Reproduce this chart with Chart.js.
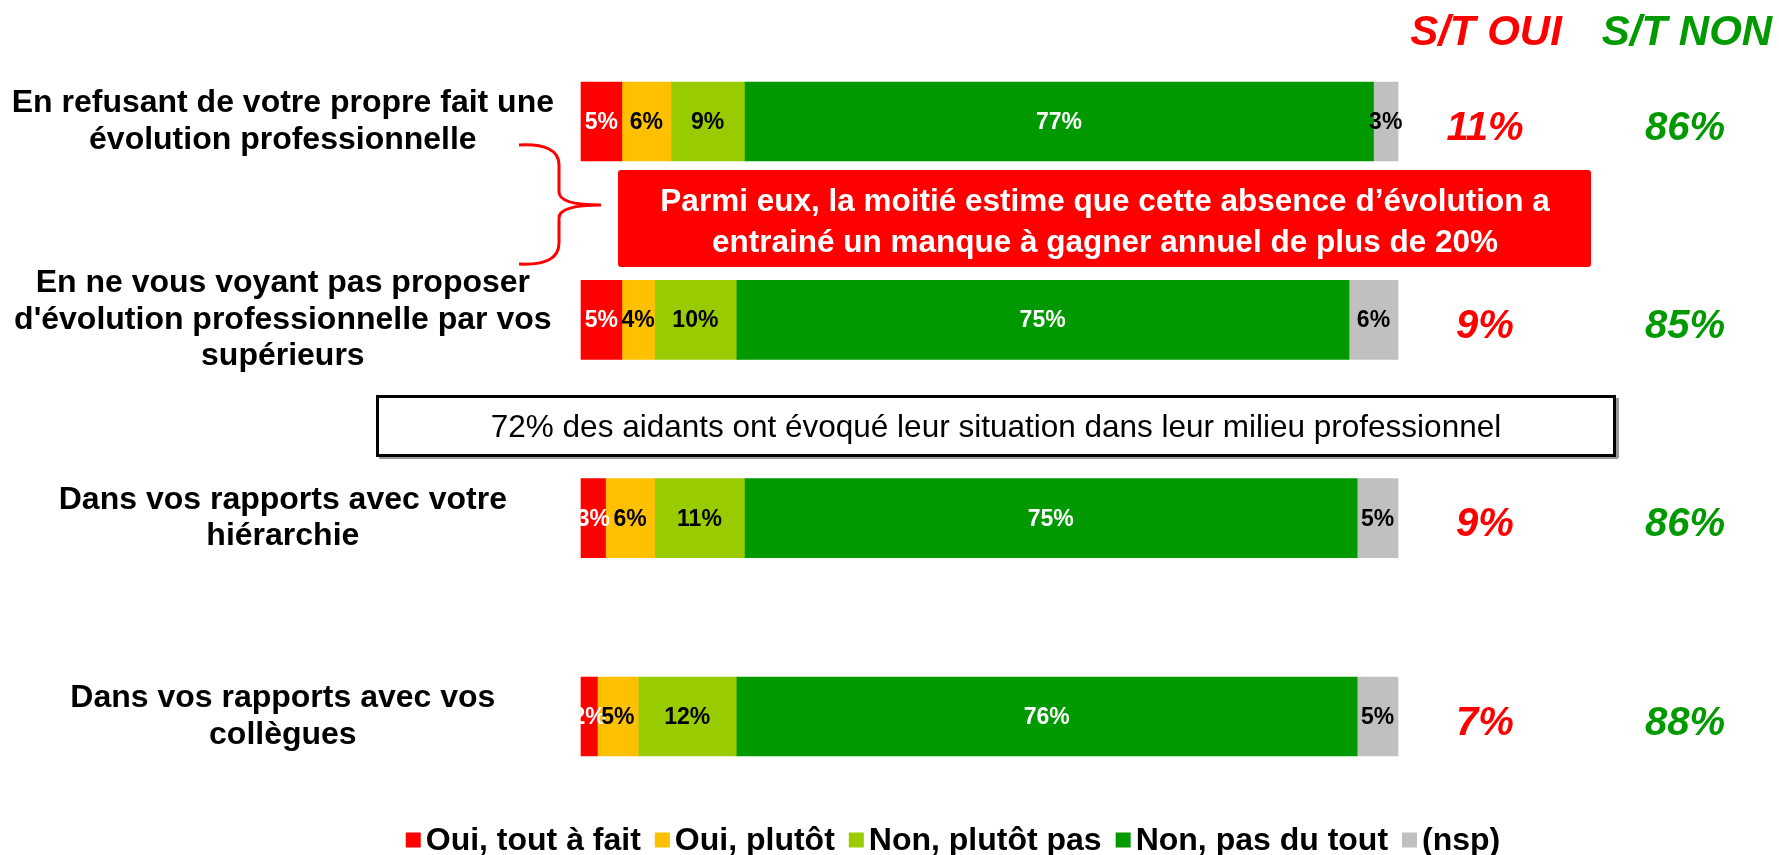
<!DOCTYPE html>
<html lang="fr">
<head>
<meta charset="utf-8">
<script src="https://cdn.jsdelivr.net/npm/chart.js@4.4.1/dist/chart.umd.min.js"></script>
<style>
  html, body { margin: 0; padding: 0; background: #fff; }
  #wrap { width: 1779px; height: 855px; position: relative; }
</style>
</head>
<body>
<div id="wrap"><canvas id="aidantsChart"></canvas></div>
<script>
// libellés des questions (une ligne par élément)
const categories = [
  ['En refusant de votre propre fait une', 'évolution professionnelle'],
  ['En ne vous voyant pas proposer', "d'évolution professionnelle par vos", 'supérieurs'],
  ['Dans vos rapports avec votre', 'hiérarchie'],
  ['Dans vos rapports avec vos', 'collègues']
];

const seriesLabels = ['Oui, tout à fait', 'Oui, plutôt', 'Non, plutôt pas', 'Non, pas du tout', '(nsp)'];
const seriesColors = ['#FF0000', '#FFC000', '#99CC00', '#009900', '#C0C0C0'];
const labelColors = ['#FFFFFF', '#000000', '#000000', '#FFFFFF', '#000000'];

const ouiToutAFait = [5, 5, 3, 2];
const ouiPlutot = [6, 4, 6, 5];
const nonPlutotPas = [9, 10, 11, 12];
const nonPasDuTout = [77, 75, 75, 76];
const nsp = [3, 6, 5, 5];

// sous-totaux affichés à droite
const stOui = [11, 9, 9, 7];
const stNon = [86, 85, 86, 88];

const series = [ouiToutAFait, ouiPlutot, nonPlutotPas, nonPasDuTout, nsp];

const FONT = "'Liberation Sans', Arial, sans-serif";

const overlay = {
  id: 'overlay',
  afterDatasetsDraw(chart) {
    const ctx = chart.ctx;
    ctx.save();
    ctx.font = 'bold 23px ' + FONT;
    ctx.textAlign = 'center';
    ctx.textBaseline = 'middle';
    series.forEach((vals, d) => {
      const meta = chart.getDatasetMeta(d);
      ctx.fillStyle = labelColors[d];
      meta.data.forEach((bar, i) => {
        const p = bar.getCenterPoint();
        ctx.fillText(vals[i] + '%', p.x, p.y + 1);
      });
    });
    ctx.restore();
  },
  afterDraw(chart) {
    const ctx = chart.ctx;
    const y = chart.scales.y;
    ctx.save();

    // en-têtes et sous-totaux
    ctx.textAlign = 'center';
    ctx.textBaseline = 'middle';
    ctx.font = 'italic bold 42px ' + FONT;
    ctx.fillStyle = '#FF0000';
    ctx.fillText('S/T OUI', 1486, 33);
    ctx.fillStyle = '#009900';
    ctx.fillText('S/T NON', 1687, 33);
    ctx.font = 'italic bold 40px ' + FONT;
    categories.forEach((c, i) => {
      const py = y.getPixelForValue(i) + 7;
      ctx.fillStyle = '#FF0000';
      ctx.fillText(stOui[i] + '%', 1485, py);
      ctx.fillStyle = '#009900';
      ctx.fillText(stNon[i] + '%', 1685, py);
    });

    // accolade rouge
    ctx.strokeStyle = '#FF0000';
    ctx.lineWidth = 3;
    ctx.beginPath();
    ctx.moveTo(519, 145);
    ctx.quadraticCurveTo(559, 143, 559, 165);
    ctx.lineTo(559, 192);
    ctx.quadraticCurveTo(559, 205, 601, 205);
    ctx.quadraticCurveTo(559, 205, 559, 218);
    ctx.lineTo(559, 243);
    ctx.quadraticCurveTo(559, 266, 519, 264);
    ctx.stroke();

    // encadré rouge
    ctx.fillStyle = '#FF0000';
    ctx.beginPath();
    ctx.roundRect(618, 170, 973, 97, 3);
    ctx.fill();
    ctx.fillStyle = '#FFFFFF';
    ctx.font = 'bold 31.5px ' + FONT;
    ctx.fillText('Parmi eux, la moitié estime que cette absence d’évolution a', 1105, 202);
    ctx.fillText('entrainé un manque à gagner annuel de plus de 20%', 1105, 243);

    // encadré blanc
    ctx.fillStyle = '#9a9a9a';
    ctx.fillRect(379, 456, 1239, 3);
    ctx.fillRect(1616, 398, 3, 60);
    ctx.strokeStyle = '#000000';
    ctx.lineWidth = 3;
    ctx.strokeRect(377.5, 396.5, 1237, 59);
    ctx.fillStyle = '#000000';
    ctx.font = '31.5px ' + FONT;
    ctx.fillText('72% des aidants ont évoqué leur situation dans leur milieu professionnel', 996, 428);

    // légende
    ctx.font = 'bold 32px ' + FONT;
    ctx.textAlign = 'left';
    const box = 15, gapBox = 5, gapItem = 14;
    const items = chart.data.datasets.map(ds => ({ text: ds.label, color: ds.backgroundColor }));
    const widths = items.map(it => box + gapBox + ctx.measureText(it.text).width);
    const total = widths.reduce((a, b) => a + b, 0) + gapItem * (items.length - 1);
    let lx = 953 - total / 2;
    const ly = 840;
    items.forEach((it, i) => {
      ctx.fillStyle = it.color;
      ctx.fillRect(lx, ly - box / 2, box, box);
      ctx.fillStyle = '#000000';
      ctx.fillText(it.text, lx + box + gapBox, ly + 1);
      lx += widths[i] + gapItem;
    });

    ctx.restore();
  }
};

new Chart(document.getElementById('aidantsChart'), {
  type: 'bar',
  data: {
    labels: categories,
    datasets: series.map((vals, d) => ({
      label: seriesLabels[d],
      data: vals,
      backgroundColor: seriesColors[d],
      borderWidth: 0,
      barThickness: 79,
      clip: false
    }))
  },
  options: {
    indexAxis: 'y',
    responsive: true,
    maintainAspectRatio: false,
    animation: false,
    layout: { padding: { left: 0, right: 381, top: 121.5, bottom: 138.5 } },
    scales: {
      x: {
        stacked: true,
        display: false,
        min: 0,
        max: 100
      },
      y: {
        stacked: true,
        offset: false,
        grid: { display: false, drawTicks: false },
        border: { display: false },
        ticks: {
          crossAlign: 'center',
          padding: 27,
          color: '#000',
          font: { family: FONT, size: 32, weight: 'bold', lineHeight: 1.15 }
        },
        afterFit: s => { s.width = 581; }
      }
    },
    plugins: {
      legend: { display: false },
      tooltip: { enabled: false }
    }
  },
  plugins: [overlay]
});
</script>
</body>
</html>
